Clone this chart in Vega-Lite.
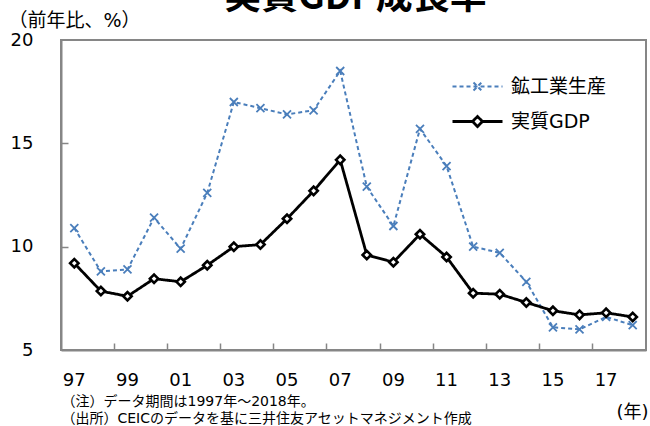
{
  "$schema": "https://vega.github.io/schema/vega-lite/v6.json",
  "width": 585,
  "height": 310,
  "autosize": {"type": "none"},
  "padding": {"left": 61, "top": 40, "right": 4, "bottom": 76},
  "background": "white",
  "config": {
    "view": {"stroke": "#868686", "strokeWidth": 2},
    "font": "DejaVu Sans, Noto Sans CJK JP"
  },
  "data": {
    "values": [
      {"year": 1997, "series": "鉱工業生産", "value": 10.9},
      {"year": 1998, "series": "鉱工業生産", "value": 8.8},
      {"year": 1999, "series": "鉱工業生産", "value": 8.9},
      {"year": 2000, "series": "鉱工業生産", "value": 11.4},
      {"year": 2001, "series": "鉱工業生産", "value": 9.9},
      {"year": 2002, "series": "鉱工業生産", "value": 12.6},
      {"year": 2003, "series": "鉱工業生産", "value": 17.0},
      {"year": 2004, "series": "鉱工業生産", "value": 16.7},
      {"year": 2005, "series": "鉱工業生産", "value": 16.4},
      {"year": 2006, "series": "鉱工業生産", "value": 16.6},
      {"year": 2007, "series": "鉱工業生産", "value": 18.5},
      {"year": 2008, "series": "鉱工業生産", "value": 12.9},
      {"year": 2009, "series": "鉱工業生産", "value": 11.0},
      {"year": 2010, "series": "鉱工業生産", "value": 15.7},
      {"year": 2011, "series": "鉱工業生産", "value": 13.9},
      {"year": 2012, "series": "鉱工業生産", "value": 10.0},
      {"year": 2013, "series": "鉱工業生産", "value": 9.7},
      {"year": 2014, "series": "鉱工業生産", "value": 8.3},
      {"year": 2015, "series": "鉱工業生産", "value": 6.1},
      {"year": 2016, "series": "鉱工業生産", "value": 6.0},
      {"year": 2017, "series": "鉱工業生産", "value": 6.6},
      {"year": 2018, "series": "鉱工業生産", "value": 6.2},
      {"year": 1997, "series": "実質GDP", "value": 9.2},
      {"year": 1998, "series": "実質GDP", "value": 7.85},
      {"year": 1999, "series": "実質GDP", "value": 7.6},
      {"year": 2000, "series": "実質GDP", "value": 8.45},
      {"year": 2001, "series": "実質GDP", "value": 8.3},
      {"year": 2002, "series": "実質GDP", "value": 9.1},
      {"year": 2003, "series": "実質GDP", "value": 10.0},
      {"year": 2004, "series": "実質GDP", "value": 10.1},
      {"year": 2005, "series": "実質GDP", "value": 11.35},
      {"year": 2006, "series": "実質GDP", "value": 12.7},
      {"year": 2007, "series": "実質GDP", "value": 14.2},
      {"year": 2008, "series": "実質GDP", "value": 9.6},
      {"year": 2009, "series": "実質GDP", "value": 9.25},
      {"year": 2010, "series": "実質GDP", "value": 10.6},
      {"year": 2011, "series": "実質GDP", "value": 9.5},
      {"year": 2012, "series": "実質GDP", "value": 7.75},
      {"year": 2013, "series": "実質GDP", "value": 7.7},
      {"year": 2014, "series": "実質GDP", "value": 7.3},
      {"year": 2015, "series": "実質GDP", "value": 6.9},
      {"year": 2016, "series": "実質GDP", "value": 6.7},
      {"year": 2017, "series": "実質GDP", "value": 6.8},
      {"year": 2018, "series": "実質GDP", "value": 6.6}
    ]
  },
  "layer": [
    {
      "mark": {"type": "line"},
      "encoding": {
        "x": {
          "field": "year",
          "type": "ordinal",
          "scale": {"type": "band", "paddingInner": 0, "paddingOuter": 0},
          "axis": {
            "values": [1997, 1999, 2001, 2003, 2005, 2007, 2009, 2011, 2013, 2015, 2017],
            "labelExpr": "substring(toString(datum.value), 2)",
            "labelAngle": 0,
            "labelFontSize": 18,
            "labelColor": "#000000",
            "labelPadding": 21,
            "ticks": false,
            "domainColor": "#868686",
            "domainWidth": 2,
            "grid": false,
            "title": ["（注）データ期間は1997年～2018年。", "（出所）CEICのデータを基に三井住友アセットマネジメント作成"],
            "titleAlign": "left",
            "titleAnchor": "start",
            "titleX": 0,
            "titleY": 55,
            "titleBaseline": "alphabetic",
            "titleFontSize": 14,
            "titleFontWeight": "normal",
            "titleLineHeight": 17.5,
            "titleColor": "#000000"
          }
        },
        "y": {
          "field": "value",
          "type": "quantitative",
          "scale": {"domain": [5, 20], "nice": false, "zero": false},
          "axis": {
            "values": [5, 10, 15, 20],
            "grid": false,
            "domainColor": "#868686",
            "domainWidth": 2,
            "ticks": false,
            "labelFontSize": 18,
            "labelColor": "#000000",
            "labelPadding": 28,
            "title": "（前年比、%）",
            "titleAngle": 0,
            "titleAlign": "left",
            "titleBaseline": "alphabetic",
            "titleX": -53,
            "titleY": -14,
            "titleFontSize": 19,
            "titleFontWeight": "normal",
            "titleColor": "#000000"
          }
        },
        "color": {
          "field": "series",
          "type": "nominal",
          "scale": {"domain": ["鉱工業生産", "実質GDP"], "range": ["#4a7ebb", "#000000"]},
          "legend": {
            "orient": "none",
            "legendX": 407,
            "legendY": 37,
            "title": null,
            "padding": 0,
            "symbolSize": 100,
            "labelFontSize": 19,
            "labelColor": "#000000",
            "labelOffset": 24,
            "labelLimit": 0,
            "rowPadding": 13,
            "encode": {
              "symbols": {
                "update": {
                  "shape": {"signal": "datum.value === '実質GDP' ? 'M-5,0H-1M1,0H5M0,-1L1,0L0,1L-1,0Z' : 'M-5,0H5M-0.8,-0.8L0.8,0.8M-0.8,0.8L0.8,-0.8'"},
                  "fill": {"value": "white"},
                  "strokeWidth": {"signal": "datum.value === '実質GDP' ? 2.8 : 2"}
                }
              }
            }
          }
        },
        "strokeDash": {
          "field": "series",
          "type": "nominal",
          "scale": {"domain": ["鉱工業生産", "実質GDP"], "range": [[4, 3], [1, 0]]}
        },
        "strokeWidth": {
          "field": "series",
          "type": "nominal",
          "scale": {"domain": ["鉱工業生産", "実質GDP"], "range": [2, 2.8]},
          "legend": null
        }
      }
    },
    {
      "transform": [{"filter": "datum.series === '鉱工業生産'"}],
      "mark": {"type": "point", "shape": "M-1,-1L1,1M-1,1L1,-1", "filled": false, "stroke": "#4a7ebb", "strokeWidth": 1.8, "opacity": 1, "size": 64},
      "encoding": {
        "x": {
          "field": "year",
          "type": "ordinal",
          "axis": {
            "orient": "top",
            "offset": -310,
            "values": [1999, 2001, 2003, 2005, 2007, 2009, 2011, 2013, 2015, 2017],
            "bandPosition": 0,
            "labels": false,
            "ticks": true,
            "tickSize": 7,
            "tickColor": "#868686",
            "tickWidth": 1.5,
            "domain": false,
            "grid": false,
            "title": "実質GDP成長率",
            "titleFont": "Noto Sans CJK JP",
            "titleFontSize": 37,
            "titleFontWeight": "bold",
            "titleX": 294,
            "titleY": -342,
            "titleAlign": "center",
            "titleBaseline": "alphabetic",
            "titleColor": "#000000"
          }
        },
        "y": {
          "field": "value",
          "type": "quantitative",
          "axis": {
            "orient": "right",
            "offset": -585,
            "values": [10, 15],
            "labels": false,
            "ticks": true,
            "tickSize": 7,
            "tickColor": "#868686",
            "tickWidth": 1.5,
            "domain": false,
            "grid": false,
            "title": "(年)",
            "titleAngle": 0,
            "titleAlign": "right",
            "titleBaseline": "alphabetic",
            "titleX": 587,
            "titleY": 377,
            "titleFontSize": 18,
            "titleFontWeight": "normal",
            "titleColor": "#000000"
          }
        }
      }
    },
    {
      "transform": [{"filter": "datum.series === '実質GDP'"}],
      "mark": {"type": "point", "shape": "diamond", "filled": true, "fill": "white", "stroke": "#000000", "strokeWidth": 2.6, "opacity": 1, "size": 70},
      "encoding": {
        "x": {"field": "year", "type": "ordinal", "axis": null},
        "y": {"field": "value", "type": "quantitative", "axis": null}
      }
    }
  ],
  "resolve": {"axis": {"x": "independent", "y": "independent"}}
}
